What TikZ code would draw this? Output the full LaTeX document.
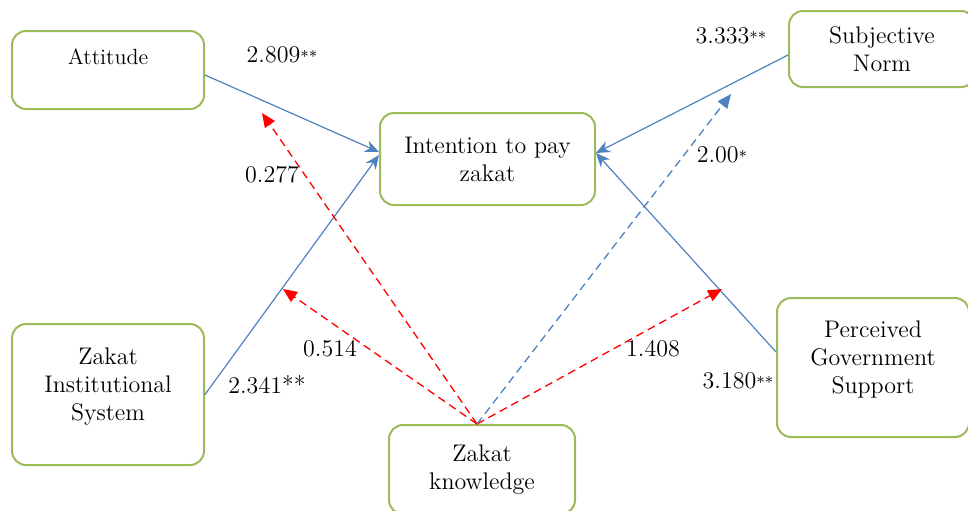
\documentclass[tikz,border=0pt]{standalone}
\usepackage{tikz}
\usetikzlibrary{arrows.meta,positioning}
\usepackage{xcolor}
\definecolor{leaf}{RGB}{155,187,89}
\definecolor{path}{RGB}{79,129,189}
\definecolor{mod}{RGB}{255,0,0}
\tikzset{
  var/.style={draw=leaf,line width=1pt,rounded corners=7pt,fill=white,
    font=\large,align=center,inner sep=3pt},
  coef/.style={font=\large,inner sep=1pt},
  arr/.style={-{Stealth[length=7pt,width=6pt]},path,line width=0.6pt},
  modarr/.style={-{Triangle[length=7pt,width=6pt]},mod,line width=0.65pt,
    dash pattern=on 4pt off 2.5pt},
  modblue/.style={-{Triangle[length=7pt,width=6pt]},path,line width=0.65pt,
    dash pattern=on 4pt off 2.5pt},
}
\newcommand{\sig}[1]{{\footnotesize#1}}
\begin{document}
\begin{tikzpicture}[x=0.5pt,y=-0.5pt]
  \useasboundingbox (0,0) rectangle (968,510);
  % constructs
  \node[var,minimum width=96pt,minimum height=39pt,font=\fontsize{11}{13}\selectfont] (att) at (108,70) {Attitude\\~};
  \node[var,minimum width=107.5pt,minimum height=46pt] (int) at (487.5,159) {Intention to pay\\zakat};
  \node[var,minimum width=93pt,minimum height=38pt] (sn) at (882,49) {Subjective\\Norm};
  \node[var,minimum width=96pt,minimum height=70.5pt] (zis) at (108,394.5) {Zakat\\Institutional\\System\\[-4pt]~};
  \node[var,minimum width=96pt,minimum height=69.5pt] (pgs) at (873,367.5) {Perceived\\Government\\Support\\[-4pt]~};
  \node[var,minimum width=93pt,minimum height=44.5pt] (zk) at (482,469.5) {Zakat\\knowledge};
  % direct paths
  \draw[arr] ([yshift=-2.5pt]att.east) -- ([yshift=3.5pt]int.west);
  \draw[arr] (zis.east) -- ([yshift=2pt]int.west);
  \draw[arr] ([yshift=-3pt]sn.west) -- ([yshift=3pt]int.east);
  \draw[arr] ([yshift=7.75pt]pgs.west) -- ([yshift=3pt]int.east);
  % moderation by knowledge
  \coordinate (mAtt) at (262,113);
  \coordinate (mZis) at (283,289);
  \coordinate (mPgs) at (722,289);
  \coordinate (mSn) at (731,94);
  \draw[modarr] ([xshift=-2.5pt]zk.north) -- (mAtt);
  \draw[modarr] ([xshift=-2.5pt]zk.north) -- (mZis);
  \draw[modarr] ([xshift=-2.5pt]zk.north) -- (mPgs);
  \draw[modblue] ([xshift=-2.5pt]zk.north) -- (mSn);
  % coefficients
  \node[coef] (cAtt) at (282,55) {2.809\sig{**}};
  \node[coef] (kAtt) at (272,175) {0.277};
  \node[coef] (cSn) at (731,36) {3.333\sig{**}};
  \node[coef] (kSn) at (722,155) {2.00\sig{*}};
  \node[coef] (kZis) at (330,349) {0.514};
  \node[coef] (cZis) at (267,385) {2.341**};
  \node[coef] (kPgs) at (653,349) {1.408};
  \node[coef] (cPgs) at (738,381) {3.180\sig{**}};
\end{tikzpicture}
\end{document}
